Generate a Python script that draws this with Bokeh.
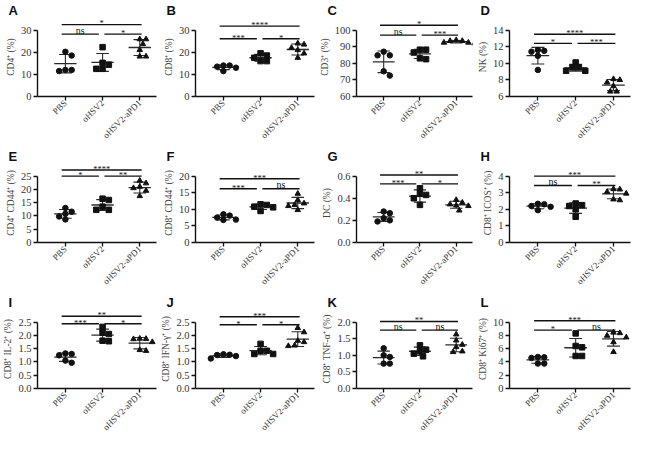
import math
import numpy as np
from bokeh.plotting import figure
from bokeh.layouts import gridplot
from bokeh.models import FixedTicker, ColumnDataSource
from bokeh.core.properties import value
from bokeh.embed import file_html
from bokeh.resources import INLINE

groups = ["PBS", "oHSV2", "oHSV2-aPD1"]
markers = ["circle", "square", "triangle"]

# ---- data: [PBS, oHSV2, oHSV2-aPD1] per panel ----
cd4 = [[20.2, 18.5, 12.0, 12.0, 11.5], [22.3, 15.2, 14.4, 12.5, 12.5], [25.9, 25.9, 23.7, 21.1, 18.1, 18.1]]
cd8 = [[14.0, 14.0, 13.5, 13.0, 11.5], [19.5, 18.5, 17.5, 16.0, 16.0], [23.5, 24.0, 22.0, 21.0, 19.5, 17.5]]
cd3 = [[87.0, 84.8, 84.8, 75.2, 72.6], [88.2, 88.2, 86.5, 83.0, 82.5], [94.0, 93.5, 93.5, 92.5, 92.0, 92.5]]
nk = [[11.4, 11.6, 11.5, 10.9, 9.2], [10.1, 9.5, 9.5, 9.1, 9.1], [8.0, 8.1, 7.7, 7.25, 6.6, 6.6]]
cd4_cd44 = [[13.0, 11.6, 10.8, 9.8, 8.7], [16.5, 16.0, 13.5, 12.3, 12.3], [23.3, 22.3, 21.0, 20.5, 19.5, 17.5]]
cd8_cd44 = [[8.5, 8.1, 7.5, 6.9, 6.8], [11.5, 11.3, 10.8, 10.6, 9.5], [14.7, 12.8, 11.8, 11.3, 11.0, 9.8]]
dc = [[0.28, 0.265, 0.22, 0.20, 0.19], [0.49, 0.44, 0.43, 0.40, 0.34], [0.385, 0.36, 0.345, 0.335, 0.33, 0.29]]
cd8_icos = [[2.33, 2.30, 2.20, 2.15, 1.95], [2.35, 2.25, 2.20, 2.00, 1.55], [3.22, 3.20, 3.05, 2.95, 2.60, 2.55]]
cd8_il2 = [[1.32, 1.30, 1.25, 1.05, 0.97], [2.32, 2.10, 2.05, 1.80, 1.78], [1.88, 1.87, 1.86, 1.75, 1.45, 1.42]]
cd8_ifng = [[1.29, 1.27, 1.26, 1.22, 1.13], [1.68, 1.42, 1.42, 1.30, 1.30], [2.28, 2.12, 1.80, 1.75, 1.62, 1.60]]
cd8_tnfa = [[1.21, 1.00, 0.95, 0.75, 0.75], [1.30, 1.17, 1.12, 1.05, 0.97], [1.63, 1.45, 1.32, 1.25, 1.12, 1.10]]
cd8_ki67 = [[4.70, 4.75, 4.60, 3.76, 3.76], [8.30, 6.40, 6.20, 4.90, 4.90], [8.43, 8.35, 7.96, 7.70, 6.98, 5.50]]

letters = ["A", "B", "C", "D", "E", "F", "G", "H", "I", "J", "K", "L"]
ylabels = ["CD4⁺ (%)", "CD8⁺ (%)", "CD3⁺ (%)", "NK (%)",
           "CD4⁺ CD44⁺ (%)", "CD8⁺ CD44⁺ (%)", "DC (%)", "CD8⁺ ICOS⁺ (%)",
           "CD8⁺ IL-2⁺ (%)", "CD8⁺ IFN-γ⁺ (%)", "CD8⁺ TNF-α⁺ (%)", "CD8⁺ Ki67⁺ (%)"]

yticks = [[0, 10, 20, 30], [0, 10, 20, 30], [60, 70, 80, 90, 100], [6, 8, 10, 12, 14],
          [0, 5, 10, 15, 20, 25], [0, 5, 10, 15, 20], [0.0, 0.2, 0.4, 0.6], [0, 1, 2, 3, 4],
          [0.0, 0.5, 1.0, 1.5, 2.0, 2.5], [0.0, 0.5, 1.0, 1.5, 2.0, 2.5], [0.0, 0.5, 1.0, 1.5, 2.0], [0, 2, 4, 6, 8, 10]]
ytick_labels = [["0", "10", "20", "30"], ["0", "10", "20", "30"], ["60", "70", "80", "90", "100"], ["6", "8", "10", "12", "14"],
                ["0", "5", "10", "15", "20", "25"], ["0", "5", "10", "15", "20"], ["0.0", "0.2", "0.4", "0.6"], ["0", "1", "2", "3", "4"],
                ["0.0", "0.5", "1.0", "1.5", "2.0", "2.5"], ["0.0", "0.5", "1.0", "1.5", "2.0", "2.5"], ["0.0", "0.5", "1.0", "1.5", "2.0"], ["0", "2", "4", "6", "8", "10"]]

# significance: [PBS vs oHSV2, oHSV2 vs aPD1, PBS vs aPD1]
sig_labels = [["ns", "*", "*"], ["***", "*", "****"], ["ns", "***", "*"], ["*", "***", "****"],
              ["*", "**", "****"], ["***", "ns", "***"], ["***", "*", "**"], ["ns", "**", "***"],
              ["***", "*", "**"], ["*", "*", "***"], ["ns", "ns", "**"], ["*", "ns", "***"]]
# bracket heights: [lower pair, top]
sig_heights = [[28.2, 32.5], [26.1, 31.8], [97.0, 102.9], [12.4, 13.5],
               [25.0, 27.3], [16.2, 19.2], [0.53, 0.61], [3.43, 4.0],
               [2.44, 2.72], [2.4, 2.7], [1.76, 2.02], [8.8, 10.2]]

panels = [cd4, cd8, cd3, nk, cd4_cd44, cd8_cd44, dc, cd8_icos, cd8_il2, cd8_ifng, cd8_tnfa, cd8_ki67]

W, H = 158, 146
BL, BR, BT, BB = 30, 2, 0, 40
HEAD = 0.19
X0, X1 = 0.25, 3.45
SERIF = "Liberation Serif"
INK = "#111111"
FW_EST, FH_EST = 110, 80


def swarm(vals, ypu, xpu, size=5.8):
    order = sorted(range(len(vals)), key=lambda i: -vals[i])
    placed = []
    offs = [0.0] * len(vals)
    step = size / 2.0
    cands = [0.0]
    for k in range(1, 10):
        cands += [k * step, -k * step]
    for i in order:
        y = vals[i] * ypu
        for c in cands:
            if all((c - px) ** 2 + (y - py) ** 2 >= (size * 0.95) ** 2 for px, py in placed):
                placed.append((c, y))
                offs[i] = c / xpu
                break
    return offs


figs = []
for k, data in enumerate(panels):
    ticks = yticks[k]
    ymin, ymax = ticks[0], ticks[-1]
    span = ymax - ymin
    yend = ymax + span * HEAD
    p = figure(title=letters[k], width=W, height=H, x_range=(X0, X1), y_range=(ymin, yend),
               output_backend="svg", toolbar_location=None,
               min_border_left=BL, min_border_right=BR, min_border_top=BT, min_border_bottom=BB)
    p.title.text_font = "Liberation Sans"
    p.title.text_font_style = "bold"
    p.title.text_font_size = "13px"
    p.title.text_line_height = 0.6
    p.title.text_color = "#111111"
    p.title.align = "left"
    p.title.offset = -(BL - 1)
    p.title.standoff = 0
    p.grid.visible = False
    p.outline_line_color = None
    p.background_fill_color = "white"

    ypu = FH_EST / (yend - ymin)
    xpu = FW_EST / (X1 - X0)
    for gi, vals in enumerate(data):
        cx = gi + 1
        offs = swarm(vals, ypu, xpu)
        m = float(np.mean(vals))
        sd = float(np.std(vals, ddof=1))
        p.segment(x0=[cx, cx - 0.17, cx - 0.17, cx - 0.3], y0=[m - sd, m + sd, m - sd, m],
                  x1=[cx, cx + 0.17, cx + 0.17, cx + 0.3], y1=[m + sd, m + sd, m - sd, m],
                  line_color="#2a2a2a", line_width=[1.1, 1.1, 1.1, 1.3])
        p.scatter(x=[cx + o for o in offs], y=vals, marker=markers[gi], size=5.5,
                  fill_color="#111111", line_color="#111111")

    lo, hi = sig_heights[k]
    bx0 = [0.9, 2.05, 0.9]
    bx1 = [1.9, 3.05, 3.05]
    by = [lo, lo, hi]
    p.segment(x0=bx0, y0=by, x1=bx1, y1=by, line_color=INK, line_width=1.4)
    labs = sig_labels[k]
    lifts = [(4.0 if t == "ns" else 1.2) / ypu for t in labs]
    src = ColumnDataSource(dict(x=[(a + b) / 2 for a, b in zip(bx0, bx1)],
                                y=[v + d for v, d in zip(by, lifts)], t=labs,
                                s=["10px" if t == "ns" else "8.5px" for t in labs]))
    p.text(x="x", y="y", text="t", source=src, text_align="center", text_baseline="alphabetic",
           text_font=value(SERIF), text_font_size="s", text_color=INK)

    p.xaxis.ticker = FixedTicker(ticks=[1, 2, 3])
    p.xaxis.major_label_overrides = {1: groups[0], 2: groups[1], 3: groups[2]}
    p.xaxis.major_label_orientation = math.pi / 4
    p.xaxis.axis_label = None
    p.yaxis.ticker = FixedTicker(ticks=ticks)
    p.yaxis.major_label_overrides = {t: l for t, l in zip(ticks, ytick_labels[k])}
    p.yaxis.bounds = (ymin, ymax)
    p.yaxis.axis_label = ylabels[k]
    for ax in (p.xaxis[0], p.yaxis[0]):
        ax.axis_line_color = INK
        ax.axis_line_width = 1.4
        ax.major_tick_line_color = INK
        ax.major_tick_line_width = 1.3
        ax.major_tick_in = 0
        ax.major_tick_out = 4
        ax.minor_tick_line_color = None
        ax.major_label_text_font = SERIF
        ax.major_label_text_font_size = "10.5px"
        ax.major_label_text_color = "#333333"
        ax.major_label_standoff = 2
    p.xaxis.major_label_text_font_size = "9px"
    p.xaxis.major_label_standoff = 1
    p.yaxis.axis_label_text_font = SERIF
    p.yaxis.axis_label_text_font_size = "9.5px"
    p.yaxis.axis_label_text_font_style = "normal"
    p.yaxis.axis_label_text_color = "#444444"
    p.yaxis.axis_label_standoff = 2
    figs.append(p)

grid = gridplot(figs, ncols=4, toolbar_location=None)
open("out.html", "w").write(file_html(grid, INLINE))
